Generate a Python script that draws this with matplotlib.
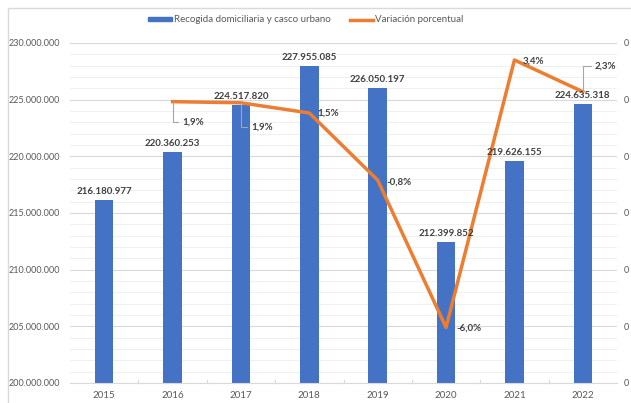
import numpy as np
import matplotlib.pyplot as plt
from matplotlib.patches import Rectangle
from matplotlib.lines import Line2D
from matplotlib.ticker import FuncFormatter, MultipleLocator

plt.rcParams['font.family'] = ['Lato', 'DejaVu Sans']

# datos
anios = ['2015', '2016', '2017', '2018', '2019', '2020', '2021', '2022']
recogida = [216180977, 220360253, 224517820, 227955085, 226050197,
            212399852, 219626155, 224635318]
variacion = [0.0193, 0.0189, 0.0153, -0.0084, -0.0604, 0.0340, 0.0228]
etiquetas_var = ['1,9%', '1,9%', '1,5%', '-0,8%', '-6,0%', '3,4%', '2,3%']

azul = '#4472C4'
naranja = '#ED7D31'
gris_txt = '#595959'

fig = plt.figure(figsize=(6.31, 4.03), dpi=100)
# marco del gráfico
fig.patches.append(Rectangle((8 / 631, -0.05), 1.1, 1 - 8 / 403 + 0.05,
                             transform=fig.transFigure, fill=False,
                             edgecolor='#d9d9d9', lw=1))

ax = fig.add_axes([70 / 631, 20 / 403, 547 / 631, 340 / 403])
x = np.arange(len(anios))
ax.bar(x, recogida, width=0.27, color=azul, zorder=2)
ax.set_xlim(-0.5, len(anios) - 0.5)
ax.set_ylim(200000000, 230000000)
ax.yaxis.set_major_locator(MultipleLocator(5000000))
ax.yaxis.set_minor_locator(MultipleLocator(1000000))
ax.yaxis.set_major_formatter(FuncFormatter(lambda v, p: f'{v:,.0f}'.replace(',', '.')))
ax.grid(axis='y', which='major', color='#d9d9d9', lw=0.8, zorder=0)
ax.grid(axis='y', which='minor', color='#f0f0f0', lw=0.8, zorder=0)
ax.set_axisbelow(True)
ax.set_xticks(x)
ax.set_xticklabels(anios)
ax.tick_params(axis='x', length=0, labelsize=7, colors=gris_txt, pad=6)
ax.tick_params(axis='y', which='both', length=0, labelsize=6.5, colors=gris_txt, pad=7)
for s in ['top', 'right', 'left']:
    ax.spines[s].set_visible(False)
ax.spines['bottom'].set_color('#d9d9d9')
# separadores de categoría
for i in range(1, len(anios)):
    ax.plot([i - 0.5, i - 0.5], [200000000, 200250000], color='#d9d9d9', lw=0.8,
            clip_on=False)

ax2 = ax.twinx()
ax2.set_ylim(-0.08, 0.04)
ax2.yaxis.set_major_locator(MultipleLocator(0.02))
ax2.yaxis.set_major_formatter(FuncFormatter(lambda v, p: '0'))
ax2.tick_params(axis='y', length=0, labelsize=6.5, colors=gris_txt, pad=5)
for s in ['top', 'right', 'left', 'bottom']:
    ax2.spines[s].set_visible(False)
ax2.plot(x[1:], variacion, color=naranja, lw=2.5, zorder=3)

# etiquetas de las barras, por encima de la línea
for xi, v in zip(x, recogida):
    ax2.annotate(f'{v:,.0f}'.replace(',', '.'), (xi, v), xycoords=ax.transData,
                 xytext=(0, 4), textcoords='offset pixels', ha='center', va='bottom',
                 fontsize=7, fontweight='bold', color='#404040', zorder=5)

# posiciones de las etiquetas (pixeles de desplazamiento)
desp = [(10, -20), (10, -24), (8, 0), (9, -2), (10, -1), (8, -1), (12, 26)]
guia = [True, True, False, False, False, False, True]
for xi, v, t, d, g in zip(x[1:], variacion, etiquetas_var, desp, guia):
    props = None
    if g:
        props = dict(arrowstyle='-', color='#a6a6a6', lw=0.8, shrinkA=1, shrinkB=0,
                     connectionstyle='angle,angleA=0,angleB=90,rad=0')
    ax2.annotate(t, (xi, v), xytext=d, textcoords='offset pixels',
                 ha='left', va='center', fontsize=7, fontweight='bold',
                 color='#404040', arrowprops=props, zorder=5)

handles = [Rectangle((0, 0), 1, 1, color=azul),
           Line2D([0], [0], color=naranja, lw=2.5)]
fig.legend(handles, ['Recogida domiciliaria y casco urbano', 'Variación porcentual'],
           loc='center', bbox_to_anchor=(0.485, 1 - 20 / 403), ncol=2, frameon=False,
           fontsize=7, labelcolor=gris_txt, handlelength=2.4, handleheight=0.35,
           columnspacing=2.0, handletextpad=0.2)

fig.savefig('out.png', dpi=100)
